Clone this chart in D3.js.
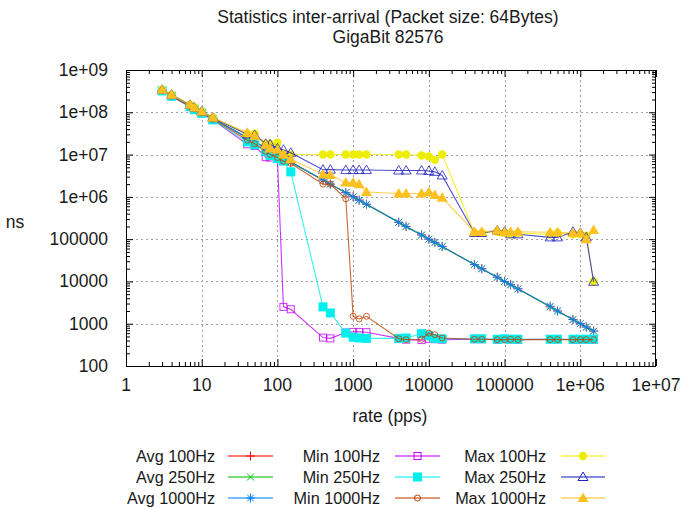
<!DOCTYPE html>
<html>
<head>
<meta charset="utf-8">
<script src="https://cdn.jsdelivr.net/npm/d3@7"></script>
<style>
  body { margin: 0; background: #fff; }
  svg { display: block; font-family: "Liberation Sans", Arial, sans-serif; }
</style>
</head>
<body>
<svg id="chart" width="681" height="508"></svg>
<script>
// Packet rates (pps) at which the inter-arrival statistics were sampled
const rates = [3, 4, 7, 8, 10, 14, 40, 50, 70, 80, 100, 120, 150,
  400, 500, 800, 1000, 1200, 1500, 4000, 5000, 8000, 10000, 12000, 15000,
  40000, 50000, 80000, 100000, 120000, 150000,
  400000, 500000, 800000, 1000000, 1200000, 1500000];

// Inter-arrival times in ns
const avg100 = [3.3e8, 2.5e8, 1.43e8, 1.25e8, 1.0e8, 7.1e7, 2.5e7, 2.0e7, 1.43e7, 1.25e7, 1.0e7, 8.4e6, 6.7e6,
  2.5e6, 2.0e6, 1.26e6, 1.02e6, 8.4e5, 6.7e5, 2.5e5, 2.0e5, 1.26e5, 1.0e5, 8.4e4, 6.7e4,
  2.5e4, 2.0e4, 1.26e4, 1.0e4, 8.4e3, 6.7e3, 2.5e3, 2.0e3, 1.26e3, 1.0e3, 840, 670];
const avg250 = [3.3e8, 2.5e8, 1.43e8, 1.25e8, 1.0e8, 7.1e7, 2.5e7, 2.0e7, 1.43e7, 1.25e7, 1.0e7, 8.3e6, 6.6e6,
  2.5e6, 2.0e6, 1.25e6, 1.0e6, 8.3e5, 6.6e5, 2.5e5, 2.0e5, 1.25e5, 1.0e5, 8.3e4, 6.6e4,
  2.5e4, 2.0e4, 1.25e4, 1.0e4, 8.3e3, 6.6e3, 2.5e3, 2.0e3, 1.25e3, 1.0e3, 830, 665];
const avg1000 = [3.3e8, 2.5e8, 1.43e8, 1.25e8, 1.0e8, 7.1e7, 2.5e7, 2.0e7, 1.43e7, 1.25e7, 1.0e7, 8.3e6, 6.7e6,
  2.5e6, 2.0e6, 1.25e6, 1.0e6, 8.3e5, 6.7e5, 2.5e5, 2.0e5, 1.25e5, 1.0e5, 8.3e4, 6.7e4,
  2.5e4, 2.0e4, 1.25e4, 1.0e4, 8.3e3, 6.7e3, 2.6e3, 2.0e3, 1.25e3, 1.0e3, 830, 670];
const min100 = [3.2e8, 2.4e8, 1.35e8, 1.15e8, 9.5e7, 6.6e7, 1.75e7, 1.6e7, 8.7e6, 8.5e6, 8.0e6, 2500, 2200,
  470, 450, 620, 640, 640, 630, 450, 420, 410, 440, 430, 420,
  430, 430, 420, 430, 425, 420, 430, 430, 420, 420, 425, 420];
const min250 = [3.2e8, 2.4e8, 1.35e8, 1.15e8, 9.5e7, 6.6e7, 2.0e7, 1.7e7, 1.2e7, 9.5e6, 8.0e6, 7.0e6, 3.9e6,
  2500, 1800, 600, 480, 460, 450, 450, 460, 580, 520, 450, 440,
  440, 440, 430, 440, 430, 430, 430, 430, 430, 430, 430, 430];
const min1000 = [3.2e8, 2.4e8, 1.38e8, 1.2e8, 9.6e7, 6.8e7, 2.2e7, 1.8e7, 1.2e7, 1.0e7, 8.5e6, 7.0e6, 6.2e6,
  2.0e6, 2.0e6, 9.0e5, 1500, 1300, 1500, 440, 420, 430, 600, 550, 460,
  430, 430, 420, 420, 425, 420, 420, 420, 420, 420, 420, 420];
const max100 = [3.4e8, 2.6e8, 1.5e8, 1.3e8, 1.05e8, 7.5e7, 3.1e7, 3.1e7, 1.8e7, 1.8e7, 1.9e7, 1.0e7, 1.0e7,
  1.0e7, 1.0e7, 1.0e7, 1.0e7, 1.0e7, 1.0e7, 1.0e7, 1.0e7, 9.5e6, 9.0e6, 7.5e6, 1.0e7,
  1.4e5, 1.4e5, 1.5e5, 1.4e5, 1.3e5, 1.4e5, 1.3e5, 1.4e5, 1.3e5, 1.3e5, 1.2e5, 1.0e4];
const max250 = [3.4e8, 2.6e8, 1.5e8, 1.3e8, 1.05e8, 7.4e7, 3.0e7, 2.9e7, 1.8e7, 1.75e7, 1.4e7, 1.3e7, 1.1e7,
  4.4e6, 4.4e6, 4.3e6, 4.3e6, 4.3e6, 4.3e6, 4.2e6, 4.2e6, 4.2e6, 4.1e6, 3.9e6, 3.2e6,
  1.4e5, 1.4e5, 1.6e5, 1.5e5, 1.3e5, 1.3e5, 1.1e5, 1.1e5, 1.5e5, 1.4e5, 1.1e5, 9800];
const max1000 = [3.4e8, 2.6e8, 1.5e8, 1.3e8, 1.05e8, 7.4e7, 3.3e7, 2.8e7, 1.7e7, 1.4e7, 1.3e7, 1.0e7, 7.8e6,
  3.4e6, 3.3e6, 2.2e6, 2.2e6, 2.0e6, 1.3e6, 1.2e6, 1.2e6, 1.2e6, 1.3e6, 1.1e6, 9.5e5,
  1.5e5, 1.5e5, 1.6e5, 1.45e5, 1.5e5, 1.5e5, 1.45e5, 1.45e5, 1.4e5, 1.4e5, 1.0e5, 1.65e5];

const seriesNames = ["Avg 100Hz", "Avg 250Hz", "Avg 1000Hz", "Min 100Hz", "Min 250Hz", "Min 1000Hz",
  "Max 100Hz", "Max 250Hz", "Max 1000Hz"];
const seriesValues = [avg100, avg250, avg1000, min100, min250, min1000, max100, max250, max1000];
const seriesColors = ["#ff0000", "#00c000", "#0080ff", "#c000ff", "#00eeee", "#c04000", "#eeee00", "#2020c0", "#ffc020"];
const seriesMarkers = ["plus", "cross", "star", "square", "squareFill", "circle", "circleFill", "triangle", "triangleFill"];

const xTickValues = [1, 10, 100, 1000, 10000, 100000, 1e6, 1e7];
const xTickLabels = ["1", "10", "100", "1000", "10000", "100000", "1e+06", "1e+07"];
const yTickValues = [100, 1000, 10000, 100000, 1e6, 1e7, 1e8, 1e9];
const yTickLabels = ["100", "1000", "10000", "100000", "1e+06", "1e+07", "1e+08", "1e+09"];

const titleLines = ["Statistics inter-arrival (Packet size: 64Bytes)", "GigaBit 82576"];
const xLabel = "rate (pps)";
const yLabel = "ns";

// ---- layout ----
const L = 126, R = 656, T = 70, B = 366;
const svg = d3.select("#chart");
const x = d3.scaleLog().domain([1, 1e7]).range([L, R]);
const y = d3.scaleLog().domain([100, 1e9]).range([B, T]);
const textColor = "#1a1a1a";

// grid
const grid = svg.append("g").attr("stroke", "#a0a0a0").attr("stroke-width", 1).attr("stroke-dasharray", "2,3");
xTickValues.slice(1, -1).forEach(v => {
  const px = Math.round(x(v)) + 0.5;
  grid.append("line").attr("x1", px).attr("x2", px).attr("y1", T).attr("y2", B);
});
yTickValues.slice(1, -1).forEach(v => {
  const py = Math.round(y(v)) + 0.5;
  grid.append("line").attr("x1", L).attr("x2", R).attr("y1", py).attr("y2", py);
});

// axes via d3 axis generators (ticks drawn inward, mirrored on all four sides)
const minorMult = [2, 3, 4, 5, 6, 7, 8, 9];
const xMinor = [], yMinor = [];
xTickValues.slice(0, -1).forEach(v => minorMult.forEach(m => xMinor.push(v * m)));
yTickValues.slice(0, -1).forEach(v => minorMult.forEach(m => yMinor.push(v * m)));

function axisGroup(axis, tr) {
  const g = svg.append("g").attr("transform", tr).call(axis);
  g.select(".domain").remove();
  g.selectAll("text").remove();
  g.selectAll("line").attr("stroke", "#000");
  return g;
}
axisGroup(d3.axisBottom(x).tickValues(xTickValues).tickSize(-7), `translate(0,${B})`);
axisGroup(d3.axisBottom(x).tickValues(xMinor).tickSize(-4), `translate(0,${B})`);
axisGroup(d3.axisTop(x).tickValues(xTickValues).tickSize(-7), `translate(0,${T})`);
axisGroup(d3.axisTop(x).tickValues(xMinor).tickSize(-4), `translate(0,${T})`);
axisGroup(d3.axisLeft(y).tickValues(yTickValues).tickSize(-7), `translate(${L},0)`);
axisGroup(d3.axisLeft(y).tickValues(yMinor).tickSize(-4), `translate(${L},0)`);
axisGroup(d3.axisRight(y).tickValues(yTickValues).tickSize(-7), `translate(${R},0)`);
axisGroup(d3.axisRight(y).tickValues(yMinor).tickSize(-4), `translate(${R},0)`);

// border
svg.append("rect").attr("x", L + 0.5).attr("y", T + 0.5).attr("width", R - L - 1).attr("height", B - T)
  .attr("fill", "none").attr("stroke", "#000").attr("stroke-width", 1);

// tick labels
const fs = 17.5;
svg.append("g").selectAll("text").data(xTickValues).join("text")
  .attr("x", d => x(d)).attr("y", B + 25).attr("text-anchor", "middle")
  .attr("font-size", fs).attr("fill", textColor).text((d, i) => xTickLabels[i]);
svg.append("g").selectAll("text").data(yTickValues).join("text")
  .attr("x", 108).attr("y", d => y(d) + 6).attr("text-anchor", "end")
  .attr("font-size", fs).attr("fill", textColor).text((d, i) => yTickLabels[i]);

// titles
titleLines.forEach((t, i) => svg.append("text").attr("x", 388).attr("y", 23 + i * 20)
  .attr("text-anchor", "middle").attr("font-size", fs).attr("fill", textColor).text(t));
svg.append("text").attr("x", 390).attr("y", 422).attr("text-anchor", "middle")
  .attr("font-size", fs).attr("fill", textColor).text(xLabel);
svg.append("text").attr("x", 15).attr("y", 228).attr("text-anchor", "middle")
  .attr("font-size", fs).attr("fill", textColor).text(yLabel);

// marker drawing
function marker(g, type, color, cx, cy) {
  const s = 4.5;
  switch (type) {
    case "plus":
      g.append("path").attr("d", `M${cx - s},${cy}H${cx + s}M${cx},${cy - s}V${cy + s}`)
        .attr("stroke", color).attr("fill", "none"); break;
    case "cross":
      g.append("path").attr("d", `M${cx - 3.5},${cy - 3.5}L${cx + 3.5},${cy + 3.5}M${cx - 3.5},${cy + 3.5}L${cx + 3.5},${cy - 3.5}`)
        .attr("stroke", color).attr("fill", "none"); break;
    case "star":
      g.append("path").attr("d", `M${cx - s},${cy}H${cx + s}M${cx},${cy - s}V${cy + s}M${cx - 3.3},${cy - 3.3}L${cx + 3.3},${cy + 3.3}M${cx - 3.3},${cy + 3.3}L${cx + 3.3},${cy - 3.3}`)
        .attr("stroke", color).attr("fill", "none"); break;
    case "square":
      g.append("rect").attr("x", cx - 3.5).attr("y", cy - 3.5).attr("width", 7).attr("height", 7)
        .attr("stroke", color).attr("fill", "none"); break;
    case "squareFill":
      g.append("rect").attr("x", cx - 4.5).attr("y", cy - 4.5).attr("width", 9).attr("height", 9)
        .attr("fill", color); break;
    case "circle":
      g.append("circle").attr("cx", cx).attr("cy", cy).attr("r", 3)
        .attr("stroke", color).attr("fill", "none"); break;
    case "circleFill":
      g.append("circle").attr("cx", cx).attr("cy", cy).attr("r", 4.2).attr("fill", color); break;
    case "triangle":
      g.append("path").attr("d", `M${cx},${cy - 5}L${cx + 5},${cy + 3.5}L${cx - 5},${cy + 3.5}Z`)
        .attr("stroke", color).attr("fill", "none"); break;
    case "triangleFill":
      g.append("path").attr("d", `M${cx},${cy - 5.5}L${cx + 5.5},${cy + 4}L${cx - 5.5},${cy + 4}Z`)
        .attr("fill", color); break;
  }
}

// series
const line = d3.line().x(d => x(d[0])).y(d => y(d[1]));
const plot = svg.append("g");
seriesValues.forEach((vals, si) => {
  const pts = rates.map((r, i) => [r, vals[i]]);
  const g = plot.append("g").attr("stroke-opacity", 0.8);
  g.append("path").attr("d", line(pts)).attr("fill", "none")
    .attr("stroke", seriesColors[si]).attr("stroke-width", 1.1);
  pts.forEach(p => marker(g, seriesMarkers[si], seriesColors[si], x(p[0]), y(p[1])));
});

// legend: three columns of three entries
const legCols = [{ tx: 215, l1: 228, l2: 273 }, { tx: 380, l1: 395, l2: 440 }, { tx: 546, l1: 561, l2: 605 }];
const legRows = [456, 477, 498];
seriesNames.forEach((name, i) => {
  const c = legCols[Math.floor(i / 3)], ry = legRows[i % 3];
  const g = svg.append("g");
  g.append("text").attr("x", c.tx).attr("y", ry + 6).attr("text-anchor", "end")
    .attr("font-size", 16.2).attr("fill", textColor).text(name);
  g.append("line").attr("x1", c.l1).attr("x2", c.l2).attr("y1", ry).attr("y2", ry)
    .attr("stroke", seriesColors[i]).attr("stroke-width", 1.4).attr("stroke-opacity", 0.7);
  marker(g, seriesMarkers[i], seriesColors[i], (c.l1 + c.l2) / 2, ry);
});
</script>
</body>
</html>
